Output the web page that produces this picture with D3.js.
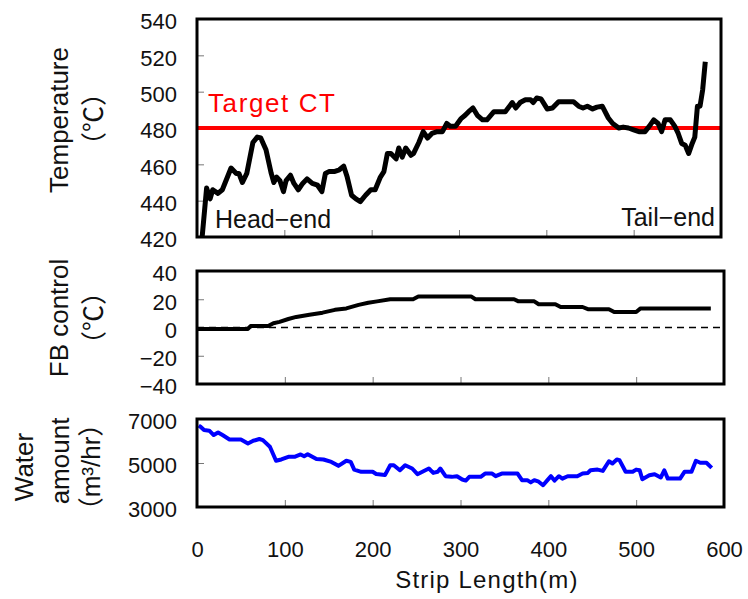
<!DOCTYPE html>
<html>
<head>
<meta charset="utf-8">
<script src="https://cdn.jsdelivr.net/npm/d3@7"></script>
<style>
  body { margin: 0; background: #fff; }
  text { font-family: "Liberation Sans", Arial, "Noto Sans CJK JP", sans-serif; }
</style>
</head>
<body>
<div id="chart-area"></div>
<script>
// Data
let xTicks = [0, 100, 200, 300, 400, 500, 600];
let tempTicks = [420, 440, 460, 480, 500, 520, 540];
let fbTicks = [-40, -20, 0, 20, 40];
let waterTicks = [3000, 5000, 7000];
let targetCT = 480;

let tempLength = [4, 11, 15, 18, 24, 29, 39, 45, 48, 52, 57, 64, 69, 73, 79, 85, 88, 91, 95, 99,
	102, 107, 111, 116, 121, 126, 132, 138, 143, 147, 151, 157, 163, 168, 172, 177, 182, 187, 193, 199,
	204, 210, 214, 218, 222, 228, 231, 235, 239, 245, 248, 254, 259, 264, 269, 275, 281, 286, 290, 296,
	302, 307, 311, 316, 321, 327, 332, 340, 347, 353, 361, 365, 370, 376, 382, 385, 389, 394, 401, 407,
	414, 422, 431, 437, 442, 447, 453, 458, 464, 471, 476, 483, 488, 494, 500, 506, 513, 518, 523, 528,
	532, 536, 542, 547, 551, 555, 559, 563, 567, 570, 573, 576, 579, 582];
let tempValue = [410, 447, 441, 446, 444, 446, 458, 455, 455, 450, 455, 472, 475, 474.5, 468, 455, 450, 453, 451, 445,
	451, 454, 449.5, 446, 449.5, 452, 449.5, 448.5, 445, 455, 456, 456, 457, 459, 453, 443, 441, 439.5, 443, 446,
	446, 453, 456, 466, 466, 463, 469, 464, 469, 465, 466, 472, 478, 474.5, 477, 478, 478, 482.5, 481, 481,
	485, 487, 489, 491, 487, 484.5, 484.5, 489, 489, 489, 494, 491, 494, 495.5, 495.5, 494, 496.5, 496, 490.5, 491,
	494.5, 494.5, 494.5, 492, 491, 492, 490.5, 491.5, 492, 485.5, 482.5, 480, 480.5, 480, 479, 478, 478, 481, 484.5, 482.5,
	478, 484.5, 484.5, 481, 477, 471.5, 470.5, 466, 471.5, 475, 492, 492, 501, 516.5];

let fbLength = [1, 58, 61, 81, 87, 94, 104, 113, 128, 143, 157, 170, 184, 195, 205, 220, 246, 252, 312, 317,
	361, 366, 384, 389, 408, 414, 439, 445, 469, 475, 500, 505, 585];
let fbValue = [-1, -1, 1, 1, 3, 4, 6, 7.5, 9, 10.5, 12.5, 13.5, 16, 17.5, 18.5, 20, 20, 22, 22, 20,
	20, 18.5, 18.5, 16.5, 16.5, 14.5, 14.5, 13, 13, 11, 11, 13.5, 13.5];

let waterLength = [2, 4, 8, 14, 19, 24, 29, 37, 50, 58, 64, 71, 75, 83, 90, 96, 104, 111, 118, 122,
	126, 136, 144, 153, 161, 170, 175, 179, 187, 200, 204, 214, 220, 224, 231, 237, 245, 251, 260, 264,
	269, 274, 277, 283, 290, 296, 302, 306, 310, 323, 328, 336, 340, 347, 365, 370, 376, 380, 384, 389,
	394, 399, 403, 407, 412, 416, 422, 433, 439, 445, 448, 456, 462, 469, 473, 478, 481, 488, 496, 500,
	504, 507, 515, 521, 528, 532, 536, 550, 555, 563, 568, 573, 580, 586];
let waterValue = [6700, 6650, 6500, 6470, 6270, 6390, 6270, 6070, 6070, 5890, 6010, 6090, 6040, 5740, 5100, 5160, 5280, 5280, 5390, 5310,
	5400, 5180, 5160, 5050, 4870, 5100, 5050, 4700, 4600, 4600, 4500, 4450, 4900, 4900, 4670, 4900, 4750, 4490, 4670, 4750,
	4550, 4600, 4750, 4400, 4370, 4400, 4250, 4200, 4370, 4370, 4520, 4520, 4400, 4520, 4520, 4220, 4220, 4120, 4220, 4150,
	3990, 4220, 4400, 4200, 4400, 4290, 4400, 4400, 4520, 4550, 4670, 4700, 4640, 5080, 4980, 5160, 5130, 4600, 4600, 4700,
	4670, 4260, 4440, 4490, 4340, 4670, 4290, 4290, 4600, 4600, 5100, 5010, 5010, 4780];

let width = 748, height = 599;
let svg = d3.select("#chart-area").append("svg")
	.attr("width", width)
	.attr("height", height);

// Draw one framed panel and return its scales
function drawPanel(id, x0, x1, y0, y1, yDomain, yTickValues, yFormat, showX) {
	let xScale = d3.scaleLinear().domain([0, 600]).range([x0, x1]);
	let yScale = d3.scaleLinear().domain(yDomain).range([y1, y0]);

	svg.append("clipPath").attr("id", id)
		.append("rect")
		.attr("x", x0).attr("y", y0)
		.attr("width", x1 - x0).attr("height", y1 - y0);

	let yAxis = d3.axisLeft(yScale).tickValues(yTickValues).tickFormat(yFormat)
		.tickSize(-7).tickPadding(20);
	let gy = svg.append("g")
		.attr("transform", "translate(" + x0 + ",0)")
		.call(yAxis);
	gy.select(".domain").remove();
	gy.selectAll(".tick line").attr("stroke", "#777");
	gy.selectAll("text").attr("font-size", 22).attr("dy", "0.45em").attr("fill", "#111");
	gy.attr("font-family", null).attr("font-size", null);

	let xAxis = d3.axisBottom(xScale).tickValues(xTicks).tickSize(-7).tickPadding(34)
		.tickFormat(showX ? d3.format("d") : "");
	let gx = svg.append("g")
		.attr("transform", "translate(0," + y1 + ")")
		.call(xAxis);
	gx.select(".domain").remove();
	gx.selectAll(".tick line").attr("stroke", "#777");
	gx.selectAll("text").attr("font-size", 22).attr("fill", "#111");
	gx.attr("font-family", null).attr("font-size", null);

	return {x: xScale, y: yScale, frame: [x0, x1, y0, y1], clip: "url(#" + id + ")"};
}

function drawFrame(p) {
	svg.append("rect")
		.attr("x", p.frame[0]).attr("y", p.frame[2])
		.attr("width", p.frame[1] - p.frame[0]).attr("height", p.frame[3] - p.frame[2])
		.attr("fill", "none").attr("stroke", "#000").attr("stroke-width", 3);
}

function drawLine(p, xs, ys, color, w) {
	let pts = xs.map((d, i) => [d, ys[i]]);
	let line = d3.line()
		.x(d => p.x(d[0]))
		.y(d => p.y(d[1]));
	svg.append("path")
		.attr("d", line(pts))
		.attr("clip-path", p.clip)
		.attr("fill", "none")
		.attr("stroke", color)
		.attr("stroke-width", w)
		.attr("stroke-linejoin", "round");
}

// Temperature panel
let tempPanel = drawPanel("clip-temp", 197, 721, 19, 237, [420, 540], tempTicks, d3.format("d"), false);
svg.append("line")
	.attr("x1", tempPanel.x(0)).attr("x2", tempPanel.x(600))
	.attr("y1", tempPanel.y(targetCT)).attr("y2", tempPanel.y(targetCT))
	.attr("stroke", "#ff0000").attr("stroke-width", 4);
drawLine(tempPanel, tempLength, tempValue, "#000", 5);
drawFrame(tempPanel);

svg.append("text").attr("x", 208).attr("y", 112)
	.attr("font-size", 26).attr("letter-spacing", 1.6).attr("fill", "#ff0000").text("Target CT");
svg.append("text").attr("x", 215).attr("y", 228)
	.attr("font-size", 25).attr("fill", "#111").text("Head−end");
svg.append("text").attr("x", 715).attr("y", 226).attr("text-anchor", "end")
	.attr("font-size", 25).attr("fill", "#111").text("Tail−end");

// FB control panel
let fbPanel = drawPanel("clip-fb", 197, 724, 271, 384, [-40, 40], fbTicks, d3.format("d"), false);
svg.append("line")
	.attr("x1", fbPanel.x(0)).attr("x2", fbPanel.x(600))
	.attr("y1", fbPanel.y(0)).attr("y2", fbPanel.y(0))
	.attr("stroke", "#000").attr("stroke-width", 1.5)
	.attr("stroke-dasharray", "7,5");
drawLine(fbPanel, fbLength, fbValue, "#000", 4);
drawFrame(fbPanel);

// Water amount panel
let waterPanel = drawPanel("clip-water", 197, 724, 419, 507, [3000, 7000], waterTicks, d3.format("d"), true);
drawLine(waterPanel, waterLength, waterValue, "#0000ff", 4);
drawFrame(waterPanel);

// Axis titles
function vText(x, y, str) {
	svg.append("text")
		.attr("transform", "translate(" + x + "," + y + ") rotate(-90)")
		.attr("text-anchor", "middle")
		.attr("font-size", 26)
		.attr("fill", "#111")
		.text(str);
}
vText(68, 120, "Temperature");
vText(103, 119, "（℃）");
vText(68, 318, "FB control");
vText(103, 318, "（℃）");
vText(33, 467, "Water");
vText(69, 461, "amount");
vText(100, 467, "（m³/hr）");

svg.append("text")
	.attr("x", 487).attr("y", 588)
	.attr("text-anchor", "middle")
	.attr("font-size", 24)
	.attr("letter-spacing", 1.2)
	.attr("fill", "#111")
	.text("Strip Length(m)");
</script>
</body>
</html>
